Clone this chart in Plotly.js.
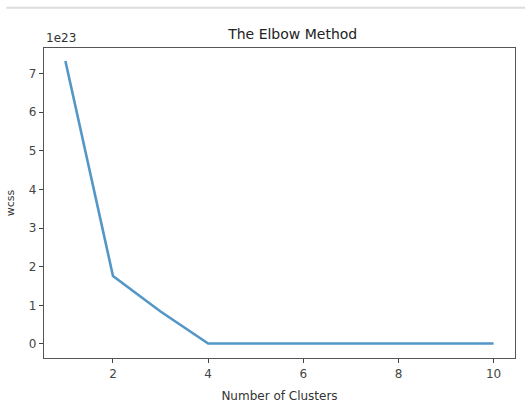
<!DOCTYPE html>
<html>
<head>
<meta charset="utf-8">
<script src="https://cdn.plot.ly/plotly-3.0.1.min.js"></script>
<style>html,body{margin:0;padding:0;background:#fff;}#chart{width:525px;height:411px;}</style>
</head>
<body>
<div id="chart"></div>
<script>
// Data
var clusters = [1, 2, 3, 4, 5, 6, 7, 8, 9, 10];
var wcss = [7.33e23, 1.76e23, 0.84e23, 0.01e23, 0.01e23, 0.01e23, 0.01e23, 0.01e23, 0.01e23, 0.01e23];
var yTickVals = [0, 1e23, 2e23, 3e23, 4e23, 5e23, 6e23, 7e23];
var yTickText = ['0', '1', '2', '3', '4', '5', '6', '7'];
var xTickVals = [2, 4, 6, 8, 10];

var font = 'DejaVu Sans, sans-serif';
var trace = {
  x: clusters, y: wcss, type: 'scatter', mode: 'lines',
  line: {color: '#5297c6', width: 2.6}, hoverinfo: 'skip'
};
var layout = {
  width: 525, height: 411,
  margin: {l: 44, r: 10, t: 48, b: 53},
  paper_bgcolor: '#ffffff', plot_bgcolor: '#ffffff',
  showlegend: false,
  font: {family: font, color: '#333', size: 12},
  title: {text: 'The Elbow Method', font: {family: font, size: 14, color: '#222'},
          x: 0.528, xanchor: 'center', y: 0.917, yanchor: 'middle', xref: 'paper'},
  xaxis: {
    range: [0.55, 10.45], tickvals: xTickVals, ticks: 'outside', ticklen: 4, tickwidth: 1,
    tickcolor: '#444', showgrid: false, zeroline: false, showline: true, linecolor: '#555',
    linewidth: 1.3, mirror: true, tickfont: {family: font, size: 12, color: '#444'},
    title: {text: 'Number of Clusters', font: {family: font, size: 12, color: '#333'}, standoff: 12}
  },
  yaxis: {
    range: [-0.365e23, 7.665e23], tickvals: yTickVals, ticktext: yTickText, ticks: 'outside',
    ticklen: 4, tickwidth: 1, tickcolor: '#444', showgrid: false, zeroline: false,
    showline: true, linecolor: '#555', linewidth: 1.3, mirror: true,
    tickfont: {family: font, size: 12, color: '#444'},
    title: {text: 'wcss', font: {family: font, size: 11, color: '#333'}, standoff: 11}
  },
  annotations: [{
    text: '1e23', xref: 'paper', yref: 'paper', x: 0, y: 1, xanchor: 'left', yanchor: 'bottom',
    yshift: 1, showarrow: false, font: {family: font, size: 12, color: '#333'}
  }],
  shapes: [{
    type: 'line', xref: 'paper', yref: 'paper', x0: -0.08, x1: 1.03, y0: 1.13, y1: 1.13,
    line: {color: '#dcdcdc', width: 2}
  }]
};
Plotly.newPlot('chart', [trace], layout, {displayModeBar: false, staticPlot: true});
</script>
</body>
</html>
